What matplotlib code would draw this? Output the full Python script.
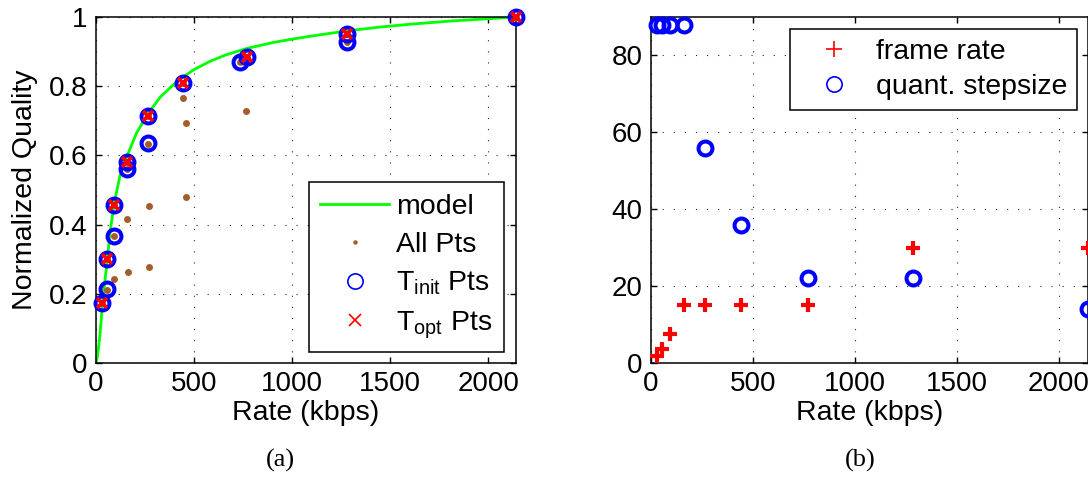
import matplotlib
matplotlib.use('Agg')
import matplotlib.pyplot as plt
from matplotlib.lines import Line2D

plt.rcParams['font.family'] = ['Liberation Sans', 'DejaVu Sans']
plt.rcParams['mathtext.fontset'] = 'custom'
plt.rcParams['mathtext.rm'] = 'Liberation Sans'
plt.rcParams['mathtext.it'] = 'Liberation Sans:italic'
plt.rcParams['mathtext.bf'] = 'Liberation Sans:bold'

# ---------------- data: panel (a) ----------------
model_rate = [0, 5, 10, 20, 30, 45, 55, 70, 92, 122, 156, 207, 264, 327, 390, 442,
              500, 582, 660, 769, 900, 1000, 1100, 1282, 1450, 1600, 1800, 2000, 2140]
model_quality = [0.0, 0.012, 0.03, 0.08, 0.15, 0.235, 0.285, 0.37, 0.46, 0.54, 0.595,
                 0.665, 0.72, 0.768, 0.802, 0.826, 0.848, 0.872, 0.89, 0.909, 0.926,
                 0.936, 0.945, 0.96, 0.971, 0.979, 0.988, 0.995, 1.0]

all_rate = [29, 54, 54, 92, 92, 92, 156, 156, 156, 162, 264, 264, 272, 272, 442,
            446, 457, 457, 735, 765, 769, 1282, 1282, 2140]
all_quality = [0.174, 0.21, 0.300, 0.367, 0.457, 0.242, 0.560, 0.582, 0.416, 0.262,
               0.633, 0.714, 0.455, 0.277, 0.808, 0.767, 0.694, 0.479, 0.871, 0.729,
               0.883, 0.929, 0.950, 1.0]

tinit_rate = [29, 54, 54, 92, 92, 156, 156, 264, 264, 442, 735, 769, 1282, 1282, 2140]
tinit_quality = [0.174, 0.213, 0.300, 0.367, 0.457, 0.560, 0.582, 0.637, 0.714,
                 0.808, 0.871, 0.883, 0.929, 0.950, 1.0]

topt_rate = [29, 54, 92, 156, 264, 442, 769, 1282, 2140]
topt_quality = [0.174, 0.300, 0.457, 0.582, 0.714, 0.808, 0.883, 0.950, 1.0]

# ---------------- data: panel (b) ----------------
rate_b = [29, 54, 92, 160, 267, 442, 771, 1284, 2141]
frame_rate = [1.875, 3.75, 7.5, 15, 15, 15, 15, 30, 30]
quant_step = [88, 88, 88, 88, 56, 36, 22, 22, 14]

xticks = [0, 500, 1000, 1500, 2000]
yticks_a = [0, 0.2, 0.4, 0.6, 0.8, 1.0]
yticklabels_a = ['0', '0.2', '0.4', '0.6', '0.8', '1']
yticks_b = [0, 20, 40, 60, 80]

GREEN = '#00ff00'
BROWN = '#a65b2a'
BLUE = '#0000ff'
RED = '#ff0000'
FS_TICK = 20
FS = 20.5

W, H = 1088, 499
fig = plt.figure(figsize=(W / 100, H / 100), dpi=100)
ax1 = fig.add_axes([96 / W, (H - 363) / H, 420 / W, 346 / H])
ax2 = fig.add_axes([651 / W, (H - 363) / H, 437 / W, 346 / H])

grid_kw = dict(color='0.15', linestyle=(0, (1, 9)), linewidth=0.8)

for ax in (ax1, ax2):
    ax.set_xlim(0, 2142)
    ax.set_xticks(xticks)
    ax.grid(True, **grid_kw)
    ax.set_axisbelow(True)
    ax.tick_params(direction='in', length=4, width=1, top=True, right=True,
                   labelsize=FS_TICK, pad=6)
    for s in ax.spines.values():
        s.set_linewidth(1.1)
    ax.set_xlabel('Rate (kbps)', fontsize=FS, labelpad=2)

# ---- panel (a) ----
ax1.plot(model_rate, model_quality, color=GREEN, lw=2, zorder=2)
ax1.plot(all_rate, all_quality, 'o', color=BROWN, ms=5, mew=0, zorder=3,
         clip_on=False)
ax1.plot(tinit_rate, tinit_quality, 'o', mfc='none', mec=BLUE, ms=10, mew=2.9,
         zorder=4, clip_on=False)
ax1.plot(topt_rate, topt_quality, 'x', color=RED, ms=7, mew=2.7, zorder=5,
         clip_on=False)
ax1.set_ylim(0, 1)
ax1.set_yticks(yticks_a)
ax1.set_yticklabels(yticklabels_a)
ax1.set_ylabel('Normalized Quality', fontsize=FS, labelpad=8)

h_a = [Line2D([], [], color=GREEN, lw=2),
       Line2D([], [], ls='none', marker='o', color=BROWN, ms=3.2, mew=0),
       Line2D([], [], ls='none', marker='o', mfc='none', mec=BLUE, ms=11, mew=1.2),
       Line2D([], [], ls='none', marker='x', color=RED, ms=8, mew=1.2)]
l_a = ['model', 'All Pts', r'T$_{\rm init}$ Pts', r'T$_{\rm opt}$ Pts']
leg1 = ax1.legend(h_a, l_a, loc='lower right', bbox_to_anchor=(0.971, 0.032),
                  borderaxespad=0, fontsize=FS, frameon=True, fancybox=False,
                  edgecolor='black', framealpha=1, handlelength=2.42,
                  handletextpad=0.25, labelspacing=0.42, borderpad=0.4)
leg1.get_frame().set_linewidth(1.1)

# ---- panel (b) ----
ax2.plot(rate_b, frame_rate, '+', color=RED, ms=9.5, mew=3, zorder=4,
         clip_on=False, label='frame rate')
ax2.plot(rate_b, quant_step, 'o', mfc='none', mec=BLUE, ms=10, mew=2.9,
         zorder=4, clip_on=False, label='quant. stepsize')
ax2.set_ylim(0, 90)
ax2.set_yticks(yticks_b)

h_b = [Line2D([], [], ls='none', marker='+', color=RED, ms=11, mew=1.2),
       Line2D([], [], ls='none', marker='o', mfc='none', mec=BLUE, ms=11, mew=1.2)]
l_b = ['frame rate', 'quant. stepsize']
leg2 = ax2.legend(h_b, l_b, loc='upper right', bbox_to_anchor=(0.975, 0.965),
                  borderaxespad=0, fontsize=FS, frameon=True, fancybox=False,
                  edgecolor='black', framealpha=1, handlelength=2.42,
                  handletextpad=0.25, labelspacing=0.3, borderpad=0.35)
leg2.get_frame().set_linewidth(1.1)

fig.text(280 / W, (H - 460) / H, '(a)', ha='center', va='center', fontsize=19,
         family=['Liberation Serif', 'DejaVu Serif'])
fig.text(860 / W, (H - 460) / H, '(b)', ha='center', va='center', fontsize=19,
         family=['Liberation Serif', 'DejaVu Serif'])

fig.savefig('out.png', dpi=100)
